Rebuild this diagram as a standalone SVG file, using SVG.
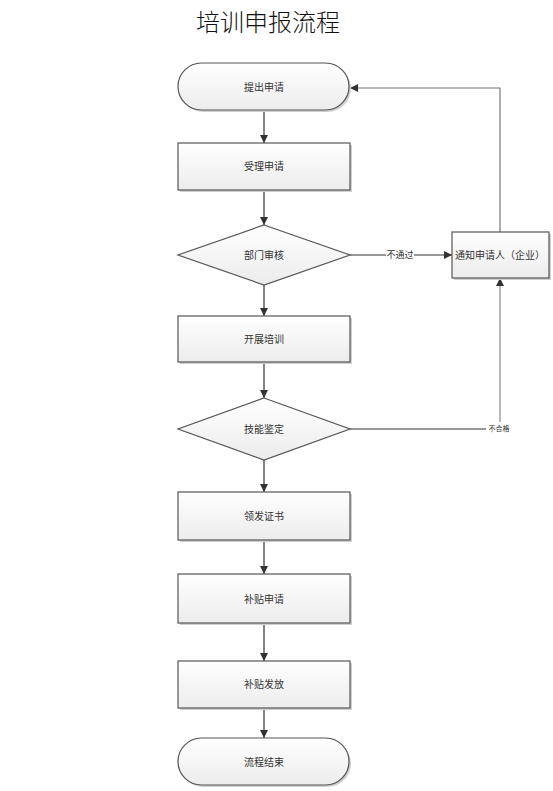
<svg xmlns="http://www.w3.org/2000/svg" width="553" height="791" viewBox="0 0 553 791" lang="zh-CN">
<style>
.shape{fill:url(#g);stroke:#555;stroke-width:1.2}
.sh{fill:#d0d0d0}
.t{font-family:"Liberation Serif","Noto Sans CJK SC",serif;font-size:10px;fill:#333;text-anchor:middle;dominant-baseline:central}
.c{fill:none;stroke:#333;stroke-width:1.2}
.lbl{font-family:"Liberation Serif","Noto Sans CJK SC",serif;font-size:9px;fill:#333;text-anchor:middle;dominant-baseline:central}
</style>
<defs>
<linearGradient id="g" x1="0" y1="0" x2="0" y2="1">
<stop offset="0" stop-color="#ffffff"/>
<stop offset="1" stop-color="#ececec"/>
</linearGradient>
<marker id="a" viewBox="0 0 10 10" refX="10" refY="5" markerWidth="8" markerHeight="8" markerUnits="userSpaceOnUse" orient="auto">
<path d="M0,0L10,5L0,10z" fill="#333"/>
</marker>
</defs>
<rect width="553" height="791" fill="#fff"/>
<text x="268" y="20" font-family="'Noto Sans CJK SC',sans-serif" font-size="24" font-weight="300" fill="#111" text-anchor="middle" dominant-baseline="central">培训申报流程</text>

<g id="connectors">
<line class="c" x1="264" y1="110" x2="264" y2="143" marker-end="url(#a)"/>
<line class="c" x1="264" y1="190" x2="264" y2="225" marker-end="url(#a)"/>
<line class="c" x1="264" y1="285" x2="264" y2="316" marker-end="url(#a)"/>
<line class="c" x1="264" y1="362" x2="264" y2="398" marker-end="url(#a)"/>
<line class="c" x1="264" y1="460" x2="264" y2="492" marker-end="url(#a)"/>
<line class="c" x1="264" y1="540" x2="264" y2="574" marker-end="url(#a)"/>
<line class="c" x1="264" y1="623" x2="264" y2="661" marker-end="url(#a)"/>
<line class="c" x1="264" y1="708" x2="264" y2="738" marker-end="url(#a)"/>
<polyline class="c" points="350,255 386,255"/>
<polyline class="c" points="414,255 452,255" marker-end="url(#a)"/>
<text class="lbl" x="400" y="255">不通过</text>
<polyline class="c" style="stroke:#777" points="500,232 500,88 350,88" marker-end="url(#a)"/>
<polyline class="c" points="350,429 486,429"/>
<polyline class="c" style="stroke:#888" points="500,422 500,278" marker-end="url(#a)"/>
<text class="lbl" x="499" y="429" style="font-size:7px">不合格</text>
</g>

<g id="start">
<rect class="sh" x="180" y="65" width="171" height="47" rx="23.5"/>
<rect class="shape" x="178" y="63" width="171" height="47" rx="23.5"/>
<text class="t" x="264" y="87">提出申请</text>
</g>
<g id="accept">
<rect class="sh" x="180" y="145" width="172" height="47"/>
<rect class="shape" x="178" y="143" width="172" height="47"/>
<text class="t" x="264" y="166">受理申请</text>
</g>
<g id="review">
<path class="shape" d="M264,225L350,255L264,285L178,255z"/>
<text class="t" x="264" y="255">部门审核</text>
</g>
<g id="notify">
<rect class="sh" x="454" y="234" width="97" height="46"/>
<rect class="shape" x="452" y="232" width="97" height="46"/>
<text class="t" x="500" y="255">通知申请人（企业）</text>
</g>
<g id="train">
<rect class="sh" x="180" y="318" width="172" height="46"/>
<rect class="shape" x="178" y="316" width="172" height="46"/>
<text class="t" x="264" y="339">开展培训</text>
</g>
<g id="assess">
<path class="shape" d="M264,398L350,429L264,460L178,429z"/>
<text class="t" x="264" y="429">技能鉴定</text>
</g>
<g id="cert">
<rect class="sh" x="180" y="494" width="172" height="48"/>
<rect class="shape" x="178" y="492" width="172" height="48"/>
<text class="t" x="264" y="516">领发证书</text>
</g>
<g id="subsidy-apply">
<rect class="sh" x="180" y="576" width="172" height="49"/>
<rect class="shape" x="178" y="574" width="172" height="49"/>
<text class="t" x="264" y="599">补贴申请</text>
</g>
<g id="subsidy-pay">
<rect class="sh" x="180" y="663" width="172" height="47"/>
<rect class="shape" x="178" y="661" width="172" height="47"/>
<text class="t" x="264" y="684">补贴发放</text>
</g>
<g id="end">
<rect class="sh" x="180" y="740" width="171" height="47" rx="23.5"/>
<rect class="shape" x="178" y="738" width="171" height="47" rx="23.5"/>
<text class="t" x="264" y="762">流程结束</text>
</g>
</svg>
